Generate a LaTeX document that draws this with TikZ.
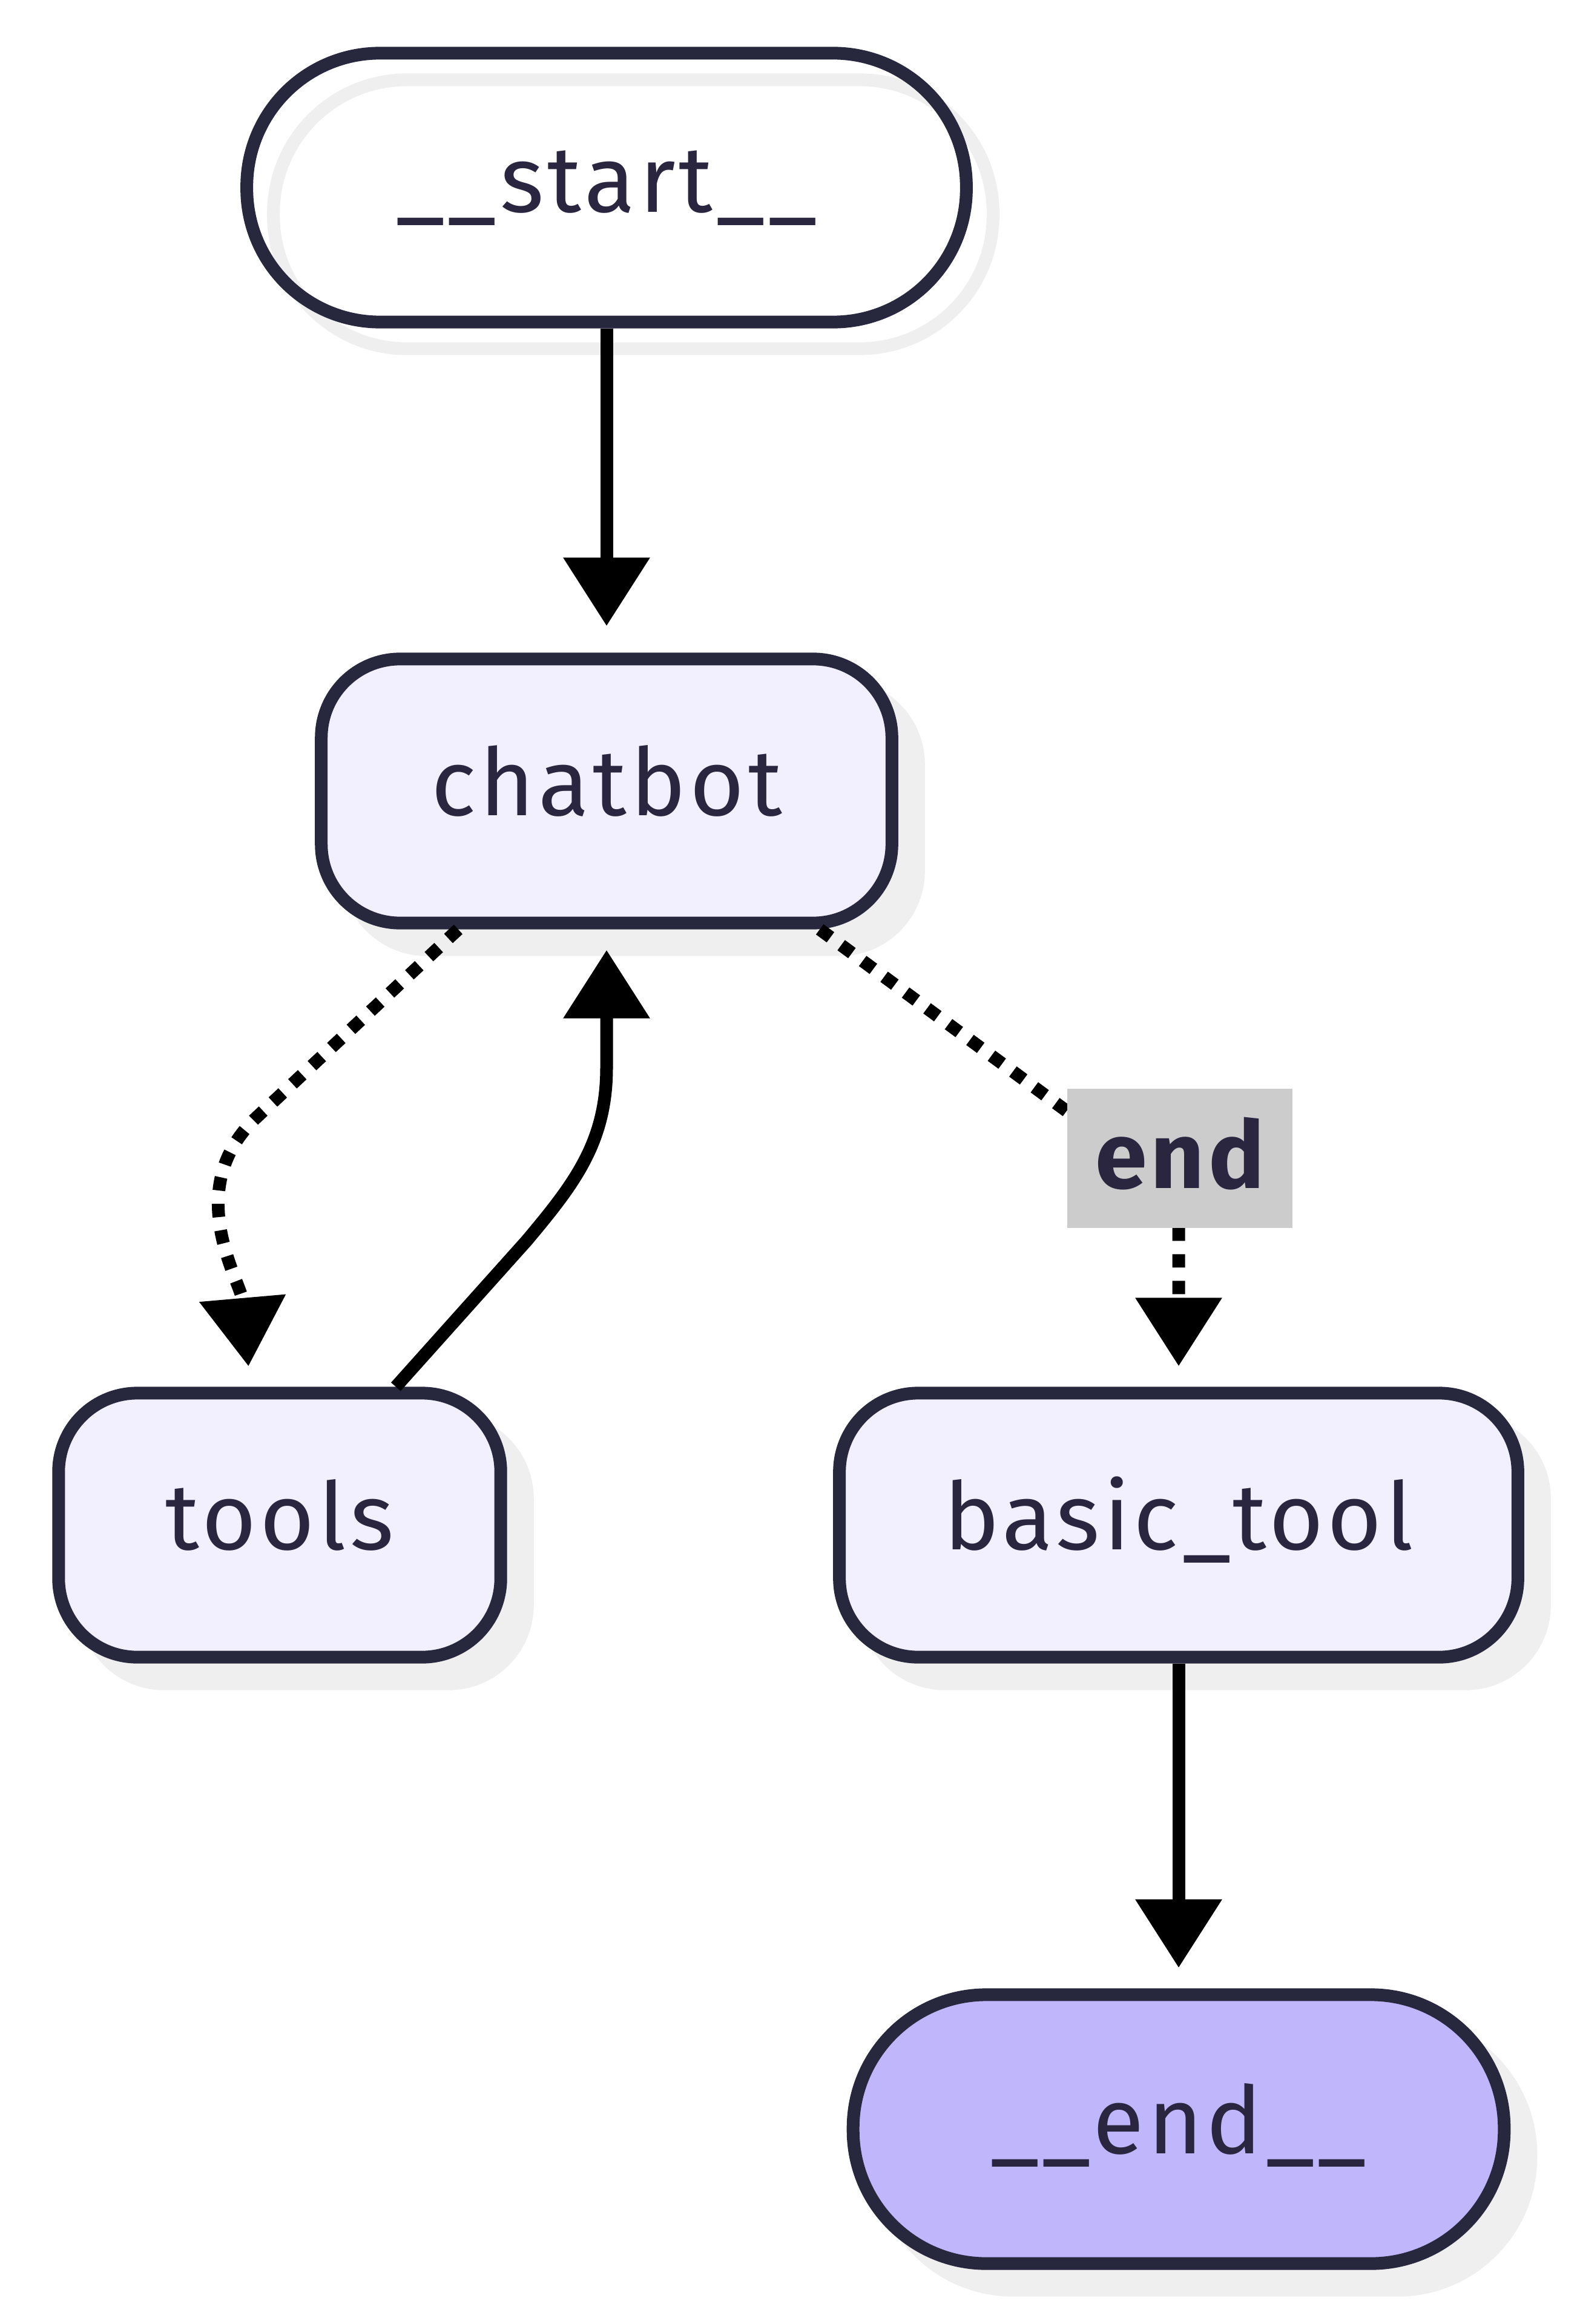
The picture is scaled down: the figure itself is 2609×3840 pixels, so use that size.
\documentclass[tikz,border=0pt]{standalone}
\usepackage{fontspec}
\newfontfamily\graphfont{Fira Sans}[LetterSpace=4.0]
\usepackage{tikz}
\usetikzlibrary{calc,positioning,arrows.meta}

\definecolor{nodeline}{RGB}{39,39,62}
\definecolor{nodetext}{RGB}{42,38,64}
\definecolor{nodefill}{RGB}{242,240,255}
\definecolor{endfill}{RGB}{191,182,252}
\definecolor{shadowgrey}{RGB}{239,239,239}
\definecolor{labelgrey}{RGB}{204,204,204}

\tikzset{
    >={Triangle[width=1.38cm,length=1.13cm]},
    graphnode/.style={
        rectangle,
        rounded corners=1.3cm,
        draw=nodeline, line width=0.21cm,
        fill=nodefill,
        text=nodetext,
        font={\graphfont\fontsize{44}{50}\selectfont},
        text height=24.2pt, text depth=1.3pt,
        minimum height=4.36cm
    },
    terminal/.style={
        graphnode,
        rounded corners=2.2cm,
        minimum height=4.44cm
    },
    box shadow/.style={preaction={draw=shadowgrey, fill=shadowgrey,
        transform canvas={shift={(0.44cm,-0.44cm)}}}},
    ring shadow/.style={preaction={draw=shadowgrey, fill=none,
        transform canvas={shift={(0.44cm,-0.44cm)}}}},
    flow/.style={draw=black, line width=0.21cm, ->, shorten >=0.34cm},
    cond/.style={flow, dash pattern=on 0.22cm off 0.22cm}
}

\begin{document}
\begin{tikzpicture}[x=0.01cm, y=0.01cm,
            endlabel/.style={
                fill=labelgrey,
                text=nodetext,
                font={\graphfont\bfseries\fontsize{44}{50}\selectfont},
                minimum width=3.71cm,
                minimum height=2.30cm,
                text height=29.2pt, text depth=1.3pt
            }]
    \path[use as bounding box, fill=white] (0,0) rectangle (2609,-3840);

    \node[terminal, ring shadow, fill=none, minimum width=11.88cm] (start) at (1002,-310) {\_\_start\_\_};
    \node[graphnode, box shadow, minimum width=9.42cm] (chatbot) at (1002,-1307) {chatbot};
    \node[graphnode, box shadow, minimum width=7.30cm] (tools) at (462,-2520) {tools};
    \node[graphnode, box shadow, minimum width=11.20cm] (basic tool) at (1947,-2520) {basic\_tool};
    \node[terminal, box shadow, fill=endfill, minimum width=10.75cm] (finish) at (1947,-3518) {\_\_end\_\_};

    \coordinate (tools bend) at (425,-1845);
    \coordinate (back bend) at (870,-2050);
    \coordinate (back top) at (1002,-1764);
    \coordinate (end bend) at (1947,-1972);

    \draw[flow, shorten >=0.44cm] (start) -- (chatbot);
    \draw[cond] (chatbot.223) -- (tools bend) to[out=223, in=95] (tools.102);
    \draw[flow] (tools.50) -- (back bend) to[out=50, in=-90] (back top) -- (chatbot.south);
    \draw[cond] (chatbot.-33) -- (end bend) -- (basic tool.north);
    \node[endlabel] (end label) at (1949,-1914) {end};
    \draw[flow] (basic tool) -- (finish);
\end{tikzpicture}
\end{document}
